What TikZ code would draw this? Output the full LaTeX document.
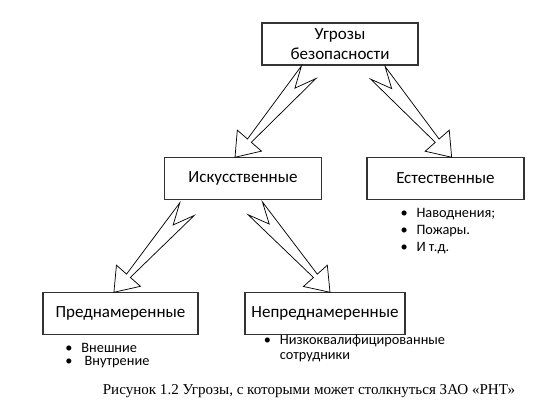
\documentclass[tikz,border=0pt]{standalone}
\usepackage{fontspec}
\setmainfont{Carlito}
\newfontfamily\capfont{Liberation Serif}
\usetikzlibrary{positioning, calc}

% hollow notched arrow: #1 tail centre, #2 tip
\newcommand{\notcharrow}[2]{%
  \draw[arrowline] ($(#1)!7.2pt!90:(#2)$) -- ($(#1)!15.75pt!(#2)$) -- ($(#1)!7.2pt!-90:(#2)$)
    -- ($(#2)!16.5pt!(#1)!1.9pt!90:(#1)$) -- ($(#2)!16.5pt!(#1)!12pt!90:(#1)$) -- (#2)
    -- ($(#2)!16.5pt!(#1)!12pt!-90:(#1)$) -- ($(#2)!16.5pt!(#1)!1.9pt!-90:(#1)$) -- cycle;}
\newcommand{\itm}{\makebox[12pt][l]{\textbullet}}

\begin{document}
\begin{tikzpicture}[node distance=2cm, on grid,
    box/.style={draw=black!80, line width=0.9pt, minimum width=117.75pt, minimum height=31pt, align=center, inner sep=2pt, font=\fontsize{12.75}{15.5}\selectfont},
    arrowline/.style={draw=black, line width=0.55pt, line join=miter},
    list/.style={anchor=north west, align=left, inner sep=0pt}]
  \useasboundingbox (0,0) rectangle (407.25pt,-303pt);

  \node[box, minimum width=117pt, minimum height=31.5pt] (threats) at (255pt,-33pt) {Угрозы\\безопасности};
  \node[box]                        (artificial) [below left=100.9pt and 72.75pt of threats]     {Искусственные};
  \node[box]                        (natural)    [below right=100.9pt and 79.1pt of threats]     {Естественные};
  \node[box, minimum width=116.25pt] (intended)   [below left=101.25pt and 91.9pt of artificial] {Преднамеренные};
  \node[box, minimum width=120pt]    (unintended) [below right=101.25pt and 61.5pt of artificial] {Непреднамеренные};

  %Стрелки: хвост (t) -- острие (h)
  \coordinate (t1) at ($(threats.south)+(-23.5pt,-5pt)$);
  \coordinate (h1) at ($(artificial.north)+(-6pt,0)$);
  \coordinate (t2) at ($(threats.south)+(28.4pt,-5.4pt)$);
  \coordinate (h2) at ($(natural.north)+(4.65pt,0)$);
  \coordinate (t3) at ($(artificial.south)+(-42pt,-7pt)$);
  \coordinate (h3) at ($(intended.north)+(-4.9pt,0)$);
  \coordinate (t4) at ($(artificial.south)+(9.2pt,-6.4pt)$);
  \coordinate (h4) at ($(unintended.north)+(3.75pt,0)$);
  \notcharrow{t1}{h1}
  \notcharrow{t2}{h2}
  \notcharrow{t3}{h3}
  \notcharrow{t4}{h4}

  %Списки
  \node[list, font=\fontsize{10.75}{12.75}\selectfont] (naturallist) at ($(natural.south west)+(25.4pt,-6.5pt)$)
    {\itm Наводнения;\\ \itm Пожары.\\ \itm И т.д.};
  \node[list, font=\fontsize{10.75}{9.9}\selectfont] (intendedlist) at ($(intended.south west)+(17.1pt,-6pt)$)
    {\itm Внешние\\ \itm\ Внутрение};
  \node[list, font=\fontsize{10.75}{11.25}\selectfont] (unintendedlist) at ($(unintended.south west)+(14.4pt,0pt)$)
    {\itm Низкоквалифицированные\\ \hspace*{12pt}сотрудники};

  \node[font=\capfont\fontsize{11.3}{13}\selectfont] (caption) at (231.75pt,-293pt)
    {Рисунок 1.2 Угрозы, с которыми может столкнуться ЗАО «РНТ»};
\end{tikzpicture}
\end{document}
